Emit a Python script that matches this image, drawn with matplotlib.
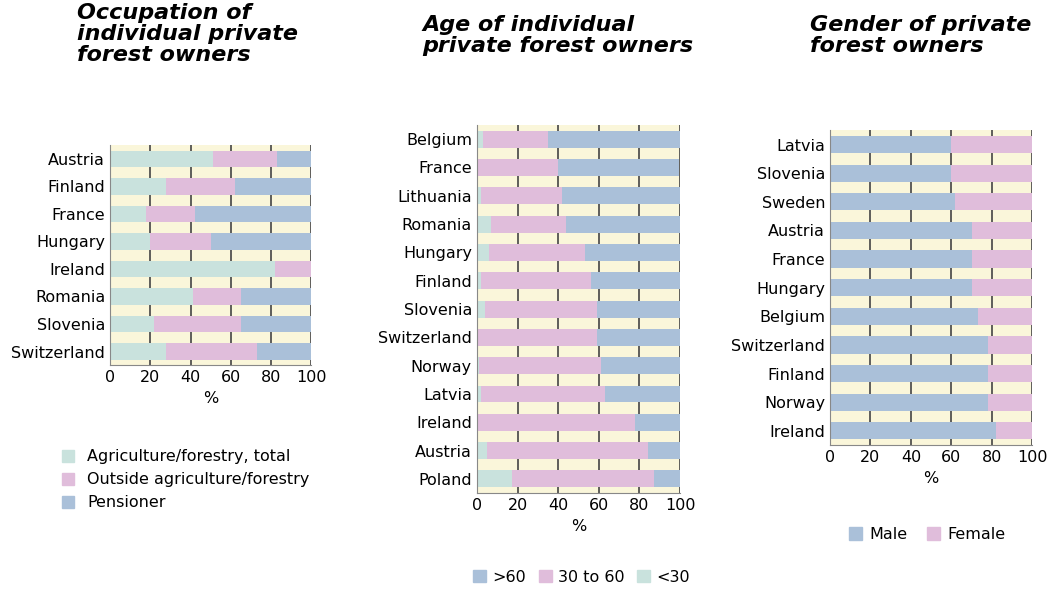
import matplotlib.pyplot as plt
from matplotlib.patches import Patch

GREEN = '#c9e2dd'
PINK = '#e0bddb'
BLUE = '#aac0d9'
BG = '#faf6da'

occ_countries = ['Austria', 'Finland', 'France', 'Hungary', 'Ireland', 'Romania', 'Slovenia', 'Switzerland']
occ_agri = [51, 28, 18, 20, 82, 41, 22, 28]
occ_outside = [32, 34, 24, 30, 18, 24, 43, 45]
occ_pension = [17, 38, 58, 50, 0, 35, 35, 27]

age_countries = ['Belgium', 'France', 'Lithuania', 'Romania', 'Hungary', 'Finland', 'Slovenia',
                 'Switzerland', 'Norway', 'Latvia', 'Ireland', 'Austria', 'Poland']
age_lt30 = [3, 0, 2, 7, 6, 2, 4, 0, 1, 2, 0.5, 5, 17.5]
age_30_60 = [32, 40, 40, 37, 47, 54, 55, 59, 60, 61, 77.5, 79, 69.5]
age_gt60 = [65, 59.5, 58, 56, 47, 44, 41, 41, 39, 37, 22, 16, 13]

gen_countries = ['Latvia', 'Slovenia', 'Sweden', 'Austria', 'France', 'Hungary', 'Belgium',
                 'Switzerland', 'Finland', 'Norway', 'Ireland']
gen_male = [60, 60, 62, 70, 70, 70, 73, 78, 78, 78, 82]
gen_female = [40, 40, 38, 30, 30, 30, 27, 22, 22, 22, 18]


def stacked(ax, names, series, colors):
    y = list(range(len(names)))
    left = [0] * len(names)
    for vals, c in zip(series, colors):
        ax.barh(y, vals, left=left, color=c, height=0.6, zorder=2)
        left = [l + v for l, v in zip(left, vals)]
    ax.set_facecolor(BG)
    ax.set_xlim(0, 100)
    ax.set_ylim(len(names) - 0.5, -0.5)
    ax.set_yticks(y)
    ax.set_yticklabels(names, fontsize=11.5)
    ax.set_xticks([0, 20, 40, 60, 80, 100])
    ax.tick_params(axis='x', labelsize=11.5, length=0)
    ax.tick_params(axis='y', length=0)
    ax.xaxis.grid(True, color='#444444', lw=1.2, zorder=1)
    ax.set_xlabel('%', fontsize=11.5)
    for s in ['top', 'right']:
        ax.spines[s].set_visible(False)
    for s in ['left', 'bottom']:
        ax.spines[s].set_color('#888888')


fig = plt.figure(figsize=(10.48, 5.92), dpi=100)
tfont = dict(fontsize=16, fontweight='bold', fontstyle='italic', ha='left', va='top')

ax1 = fig.add_axes([0.105, 0.383, 0.192, 0.372])
stacked(ax1, occ_countries, [occ_agri, occ_outside, occ_pension], [GREEN, PINK, BLUE])
fig.text(0.073, 0.995, 'Occupation of\nindividual private\nforest owners', linespacing=1.05, **tfont)
fig.legend(handles=[Patch(color=GREEN, label='Agriculture/forestry, total'),
                    Patch(color=PINK, label='Outside agriculture/forestry'),
                    Patch(color=BLUE, label='Pensioner')],
           loc='upper left', bbox_to_anchor=(0.045, 0.265), frameon=False, fontsize=11.5,
           handlelength=0.8, handleheight=0.8, labelspacing=0.5)

ax2 = fig.add_axes([0.455, 0.167, 0.194, 0.622])
stacked(ax2, age_countries, [age_lt30, age_30_60, age_gt60], [GREEN, PINK, BLUE])
fig.text(0.403, 0.975, 'Age of individual\nprivate forest owners', linespacing=1.05, **tfont)
fig.legend(handles=[Patch(color=BLUE, label='>60'), Patch(color=PINK, label='30 to 60'),
                    Patch(color=GREEN, label='<30')],
           loc='center', bbox_to_anchor=(0.555, 0.025), ncol=3, frameon=False, fontsize=11.5,
           handlelength=0.8, handleheight=0.8, columnspacing=0.8, handletextpad=0.4)

ax3 = fig.add_axes([0.792, 0.248, 0.193, 0.532])
stacked(ax3, gen_countries, [gen_male, gen_female], [BLUE, PINK])
fig.text(0.773, 0.975, 'Gender of private\nforest owners', linespacing=1.05, **tfont)
fig.legend(handles=[Patch(color=BLUE, label='Male'), Patch(color=PINK, label='Female')],
           loc='center', bbox_to_anchor=(0.885, 0.097), ncol=2, frameon=False, fontsize=11.5,
           handlelength=0.8, handleheight=0.8, columnspacing=1.2, handletextpad=0.5)

fig.savefig('out.png', dpi=100)
